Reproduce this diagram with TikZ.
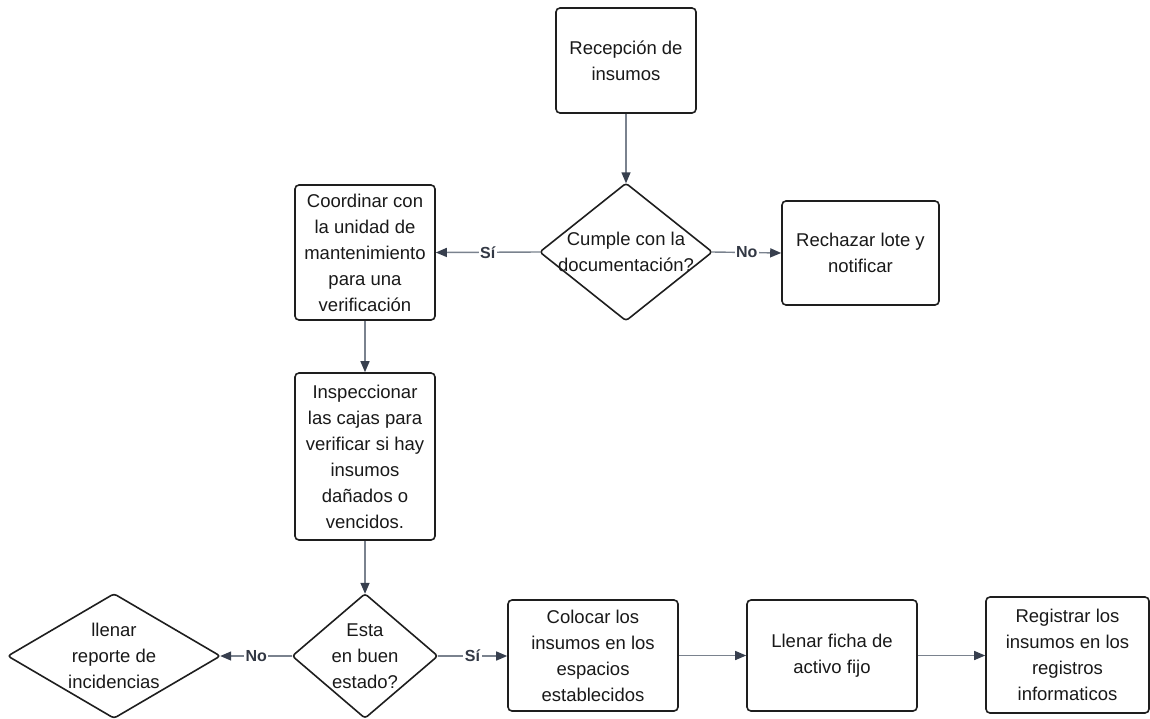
\documentclass[tikz,border=0pt]{standalone}
\usepackage{fontspec}
\setmainfont{Liberation Sans}
\usetikzlibrary{arrows.meta}
\definecolor{edgeline}{RGB}{122,130,142}
\definecolor{edgehead}{RGB}{55,63,78}
\definecolor{boxline}{RGB}{30,30,30}
\definecolor{labeltext}{RGB}{50,56,68}
\begin{document}
\begin{tikzpicture}[x=1pt,y=-1pt,
  txt/.style={font=\fontsize{18.5}{26}\selectfont, align=center, inner sep=0pt, text=black!90},
  stepbox/.style={txt, draw=boxline, line width=1.6pt, rounded corners=4pt, fill=white},
  decision/.style={txt, draw=none},
  diamondline/.style={draw=boxline, line width=1.6pt, rounded corners=3pt},
  flow/.style={draw=edgeline, line width=1.4pt,
    -{Triangle[length=11pt,width=9pt,color=edgehead]}},
  tag/.style={font=\fontsize{16}{18}\selectfont\bfseries, text=labeltext, fill=white, inner sep=1.5pt}
]
\useasboundingbox (0,0) rectangle (1150,718);

% process steps
\node[stepbox, minimum width=140pt, minimum height=105pt] (rec) at (626,60.5) {Recepción de\\insumos};
\node[stepbox, minimum width=140pt, minimum height=135pt] (coord) at (365,252.5) {Coordinar con\\la unidad de\\mantenimiento\\para una\\verificación};
\node[stepbox, minimum width=157pt, minimum height=104pt] (rech) at (860.5,253) {Rechazar lote y\\notificar};
\node[stepbox, minimum width=140pt, minimum height=167pt] (insp) at (365,456.5) {Inspeccionar\\las cajas para\\verificar si hay\\insumos\\dañados o\\vencidos.};
\node[stepbox, minimum width=170pt, minimum height=111pt] (col) at (593,655.5) {Colocar los\\insumos en los\\espacios\\establecidos};
\node[stepbox, minimum width=170pt, minimum height=111pt] (fic) at (832,655.5) {Llenar ficha de\\activo fijo};
\node[stepbox, minimum width=163pt, minimum height=116pt] (reg) at (1067.5,655) {Registrar los\\insumos en los\\registros\\informaticos};

% decisions: text frames, outlines drawn through their anchors
\node[decision, minimum width=172pt, minimum height=137pt] (d1) at (626,252) {Cumple con la\\documentación?};
\node[decision, minimum width=145pt, minimum height=124pt] (d2) at (365,656) {Esta\\en buen\\estado?};
\node[decision, minimum width=212pt, minimum height=124pt] (d3) at (114,656) {llenar\\reporte de\\incidencias};
\foreach \d in {d1,d2,d3}
  \draw[diamondline] (\d.north) -- (\d.east) -- (\d.south) -- (\d.west) -- cycle;

% connectors
\draw[flow] (rec.south) -- (d1.north);
\draw[flow] (d1.west) -- node[tag] {Sí} (coord.east);
\draw[flow] (d1.east) -- node[tag] {No} (rech.west);
\draw[flow] (coord.south) -- (insp.north);
\draw[flow] (insp.south) -- (d2.north);
\draw[flow] (d2.west) -- node[tag] {No} (d3.east);
\draw[flow] (d2.east) -- node[tag] {Sí} (d2.east -| col.west);
\draw[flow] (col.east) -- (fic.west);
\draw[flow] (fic.east) -- (fic.east -| reg.west);
\end{tikzpicture}
\end{document}
